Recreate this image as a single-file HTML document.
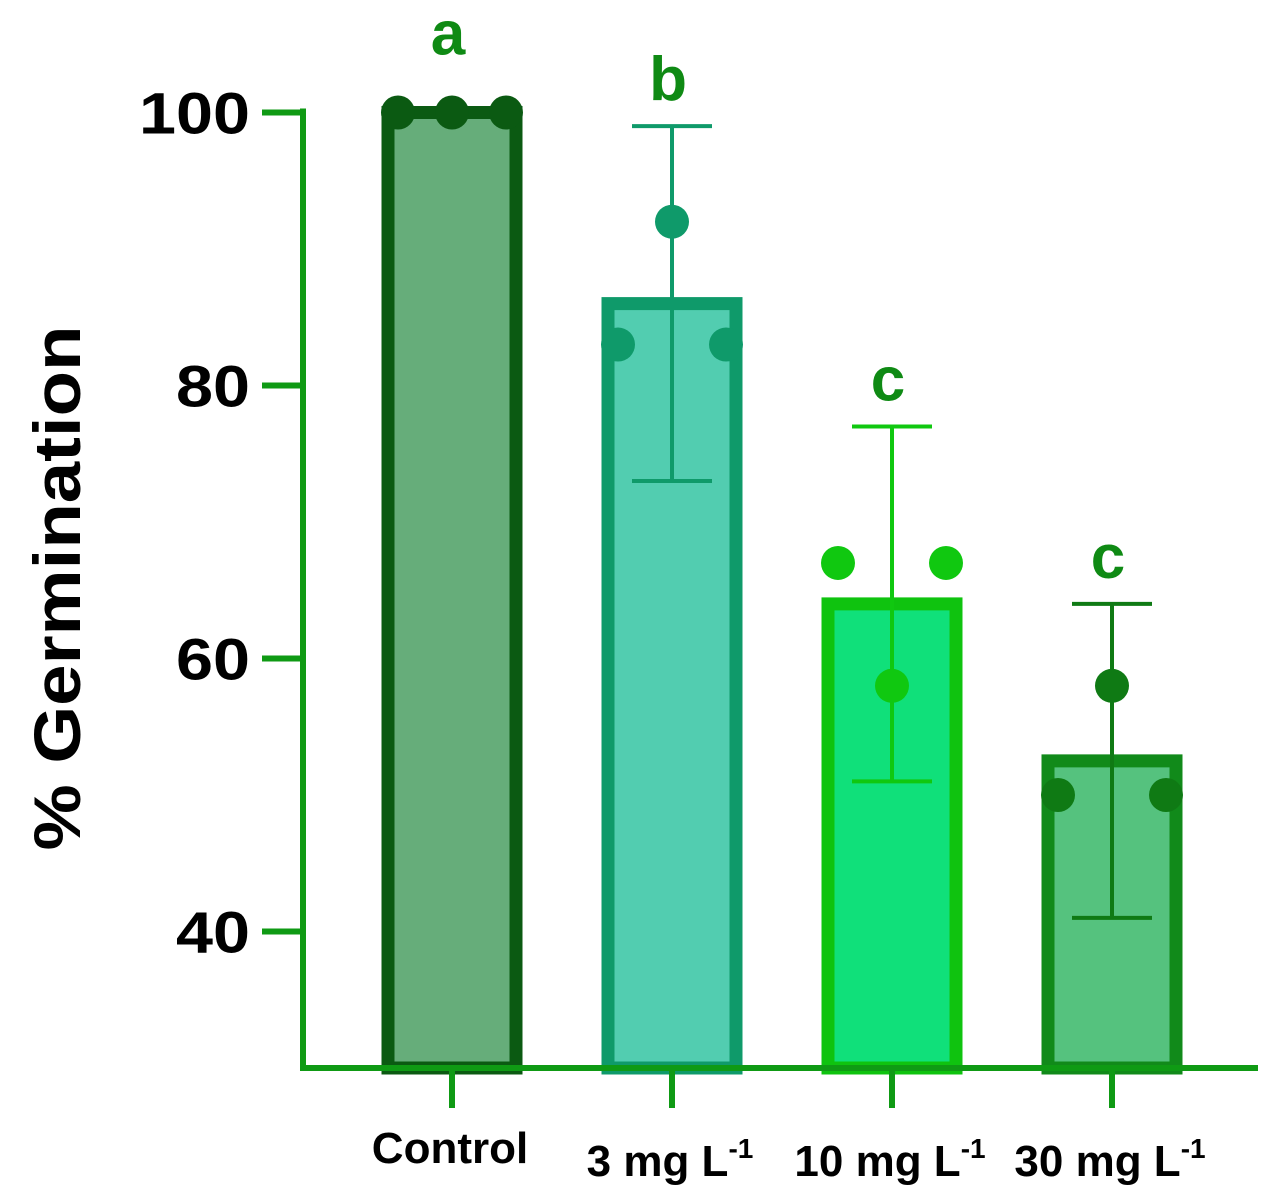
<!DOCTYPE html>
<html><head><meta charset="utf-8"><style>body{margin:0;background:#fff}svg{display:block}text{font-family:"Liberation Sans",Arial,sans-serif}</style></head>
<body>
<svg id="chart" width="1279" height="1198" viewBox="0 0 1279 1198" xmlns="http://www.w3.org/2000/svg"></svg>
<script>
const categories = ["Control", "3 mg L", "10 mg L", "30 mg L"];
const means = [100, 86, 64, 52.5];
const errLow = [100, 73, 51, 41];
const errHigh = [100, 99, 77, 64];
const points = [[100, 100, 100], [83, 92, 83], [67, 58, 67], [50, 58, 50]];
const letters = ["a", "b", "c", "c"];
const yTicks = [40, 60, 80, 100];

const fills = ["#66ad7a", "#52cdb0", "#10e07a", "#55c27e"];
const strokes = ["#0b5a12", "#0f9a6a", "#0fc30f", "#118a1a"];
const dotCols = ["#0b5a12", "#0f9a6a", "#10c810", "#0f7a14"];
const axisCol = "#0f9a14";
const NS = "http://www.w3.org/2000/svg";
const svg = document.getElementById('chart');
const yMin = 30, y0 = 1068, pxPer = 13.65;
const y = v => y0 - (v - yMin) * pxPer;
const xc = i => 452 + i * 220;
const barW = 140;
function mk(tag, attrs, parent) {
  const e = document.createElementNS(NS, tag);
  for (const k in attrs) e.setAttribute(k, attrs[k]);
  (parent || svg).appendChild(e);
  return e;
}
categories.forEach((c, i) => {
  const g = mk('g', {});
  
  
  const r = mk('rect', {x: xc(i) - barW / 2 + 6, y: y(means[i]), width: barW - 12, height: y0 - y(means[i]), fill: fills[i], stroke: strokes[i], 'stroke-width': 13}, g);
  
  
  const hasErr = errHigh[i] !== errLow[i];
  if (hasErr) {
    const e = mk('path', {d: `M${xc(i)} ${y(errLow[i])}V${y(errHigh[i])}M${xc(i) - 40} ${y(errLow[i])}h80M${xc(i) - 40} ${y(errHigh[i])}h80`, stroke: dotCols[i], 'stroke-width': 4, fill: 'none'}, g);
    
    
  }
  points[i].forEach((p, j) => {
    const d = mk('circle', {cx: xc(i) + (j - 1) * 54, cy: y(p), r: 17, fill: dotCols[i]}, g);
    
    
  });
  const top = Math.max(errHigh[i], means[i]);
  const t = mk('text', {x: xc(i) - 4, y: y(top) - (hasErr ? 26 : 58), 'text-anchor': 'middle', 'font-size': 62, 'font-weight': 'bold', fill: '#0f8a14'}, g);
  t.textContent = letters[i];
  
  
  const lab = mk('text', {x: xc(i) - 2, y: i ? 1176 : 1163, 'text-anchor': 'middle', 'font-size': 44, 'font-weight': 'bold', fill: '#000'});
  
  
  lab.textContent = c;
  if (i) { const s = mk('tspan', {dy: -18, 'font-size': 28}, lab); s.textContent = '-1'; }
  const tk = mk('line', {x1: xc(i), x2: xc(i), y1: y0, y2: 1108, stroke: axisCol, 'stroke-width': 6});
  
  
});
const ax = mk('path', {d: `M303 ${y(100) - 4}V${y0}H1258`, stroke: axisCol, 'stroke-width': 6, fill: 'none'});


yTicks.forEach(v => {
  const l = mk('line', {x1: 262, x2: 303, y1: y(v), y2: y(v), stroke: axisCol, 'stroke-width': 6});
  
  
  const s = String(v);
  const t = mk('text', {x: 250, y: y(v) + 21, 'text-anchor': 'end', 'font-size': 58, 'font-weight': 'bold', textLength: s.length * 37, lengthAdjust: 'spacingAndGlyphs'});
  t.textContent = s;
  
  
});
const yt = mk('text', {x: 0, y: 0, transform: 'translate(80 588) rotate(-90)', 'text-anchor': 'middle', 'font-size': 66, 'font-weight': 'bold', textLength: 525, lengthAdjust: 'spacingAndGlyphs'});
yt.textContent = '% Germination';


</script>
</body></html>
